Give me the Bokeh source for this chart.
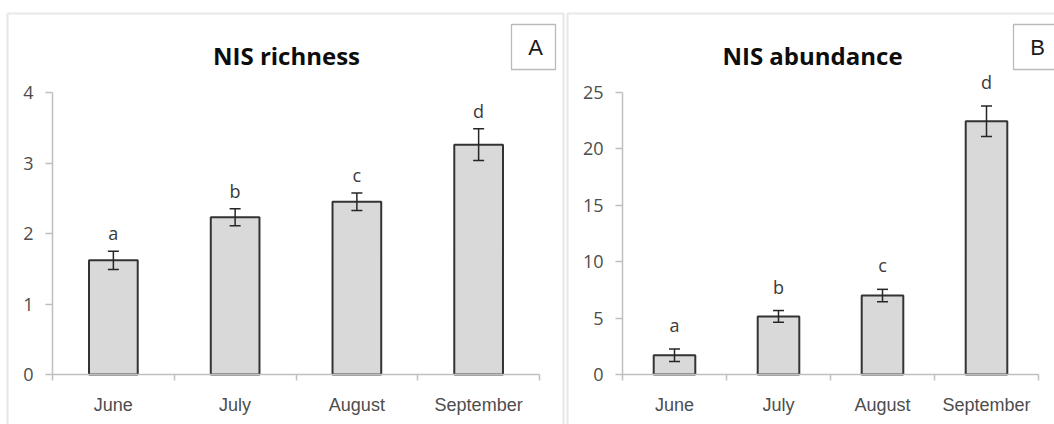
from bokeh.plotting import figure
from bokeh.models import (Range1d, FixedTicker, Whisker, TeeHead, ColumnDataSource,
                          Label, BoxAnnotation)
from bokeh.layouts import row
from bokeh.core.properties import value
from bokeh.embed import file_html
from bokeh.resources import INLINE

# ---- data ----
months = ["June", "July", "August", "September"]
letters = ["a", "b", "c", "d"]
richness = [1.62, 2.23, 2.45, 3.26]
richness_se = [0.13, 0.12, 0.125, 0.225]
abundance = [1.7, 5.15, 7.0, 22.45]
abundance_se = [0.55, 0.52, 0.55, 1.35]
richness_ticks = [0, 1, 2, 3, 4]
abundance_ticks = [0, 5, 10, 15, 20, 25]

GRID = "#bfbfbf"
BORDER = "#b3b3b3"
TXT = "#4d4d4d"
H = 424
FRAME_TOP = 11


def panel(title, vals, se, yticks, canvas_lr, frame_lr, border_lr, axis_px,
          yzero_px, ytop_px, title_x, box_lr, letter_text, letter_off):
    """All *_px / *_lr arguments are page pixel positions used for layout only."""
    n = len(months)
    xs = [i + 0.5 for i in range(n)]
    src = ColumnDataSource(dict(
        x=xs, top=vals,
        upper=[v + s for v, s in zip(vals, se)],
        lower=[v - s for v, s in zip(vals, se)],
        lab=letters))
    cl, cr = canvas_lr
    fl, fr = frame_lr
    ax0, ax1 = axis_px
    kx = (ax1 - ax0) / n
    ky = (yzero_px - ytop_px) / yticks[-1]
    x_range = Range1d((fl - ax0) / kx, (fr - ax0) / kx)
    y_range = Range1d((yzero_px - H) / ky, (yzero_px - FRAME_TOP) / ky)
    p = figure(width=cr - cl, height=H, output_backend="svg", toolbar_location=None,
               x_range=x_range, y_range=y_range,
               min_border_left=fl - cl, min_border_right=cr - fr,
               min_border_top=FRAME_TOP, min_border_bottom=0)
    p.xgrid.visible = False
    p.ygrid.visible = False
    p.background_fill_color = "white"
    p.border_fill_color = "white"
    p.outline_line_color = None

    # panel border (screen units: x from frame left, y up from frame bottom)
    bl, br = border_lr
    p.add_layout(BoxAnnotation(left=bl - fl, right=br - fl, top=H - 13, bottom=-40,
                               left_units="screen", right_units="screen",
                               top_units="screen", bottom_units="screen",
                               fill_alpha=0, line_color=BORDER, line_width=2.2,
                               level="underlay"))

    p.vbar(x="x", top="top", width=0.4, source=src, fill_color="#d9d9d9",
           line_color="#333333", line_width=2)
    head = dict(size=11, line_color="#262626", line_width=1.5)
    p.add_layout(Whisker(base="x", upper="upper", lower="lower", source=src,
                         line_color="#262626", line_width=1.5, level="glyph",
                         upper_head=TeeHead(**head), lower_head=TeeHead(**head)))
    p.text(x="x", y="upper", text="lab", source=src, y_offset=-letter_off,
           text_align="center", text_baseline="alphabetic",
           text_font=value("Open Sans"), text_font_size="18px", text_color="#3a3a3a")

    # y axis, drawn inside the frame at x = 0
    ya = p.yaxis[0]
    ya.fixed_location = 0
    ya.ticker = FixedTicker(ticks=yticks, minor_ticks=[])
    ya.bounds = (yticks[0], yticks[-1])
    ya.axis_line_color = GRID
    ya.axis_line_width = 1.5
    ya.major_tick_line_color = GRID
    ya.major_tick_line_width = 1.5
    ya.major_tick_out = 7
    ya.major_tick_in = 0
    ya.minor_tick_line_color = None
    ya.major_label_standoff = 12
    ya.major_label_text_font = "Open Sans"
    ya.major_label_text_font_size = "18px"
    ya.major_label_text_color = TXT

    # x axis, drawn inside the frame at y = 0
    xa = p.xaxis[0]
    xa.fixed_location = 0
    xa.ticker = FixedTicker(ticks=xs, minor_ticks=list(range(n + 1)))
    xa.bounds = (0, n)
    xa.major_label_overrides = {x: m for x, m in zip(xs, months)}
    xa.axis_line_color = GRID
    xa.axis_line_width = 1.5
    xa.major_tick_line_color = None
    xa.major_tick_out = 0
    xa.major_tick_in = 0
    xa.minor_tick_line_color = GRID
    xa.minor_tick_line_width = 1.5
    xa.minor_tick_out = 6
    xa.minor_tick_in = 0
    xa.major_label_standoff = 14
    xa.major_label_text_font = "Liberation Sans"
    xa.major_label_text_font_size = "18px"
    xa.major_label_text_color = TXT

    # title
    p.add_layout(Label(x=title_x - fl, y=H - 55, x_units="screen", y_units="screen",
                       text=title, text_align="center", text_baseline="alphabetic",
                       text_font="Open Sans", text_font_style="bold",
                       text_font_size="24px", text_color="#0d0d0d"))
    # panel letter box
    xl, xr = box_lr
    p.add_layout(BoxAnnotation(left=xl - fl, right=xr - fl, top=H - 24, bottom=H - 69,
                               left_units="screen", right_units="screen",
                               top_units="screen", bottom_units="screen",
                               fill_color="white", fill_alpha=1.0,
                               line_color="#1a1a1a", line_width=1.3))
    p.add_layout(Label(x=(xl + xr) / 2 + 2 - fl, y=H - 46.5, x_units="screen",
                       y_units="screen", text=letter_text,
                       text_align="center", text_baseline="middle",
                       text_font="Liberation Sans", text_font_size="22px",
                       text_color="#1a1a1a"))
    return p


pa = panel("NIS richness", richness, richness_se, richness_ticks,
           (0, 565), (5, 565), (7, 563), (52, 539), 374, 92, 286, (511, 555), "A", 18)
pb = panel("NIS abundance", abundance, abundance_se, abundance_ticks,
           (565, 1054), (565, 1054), (567, 1070), (622, 1038), 374, 92, 812,
           (1013, 1057), "B", 24)

layout = row(pa, pb, spacing=0)
open("out.html", "w").write(file_html(layout, INLINE))
